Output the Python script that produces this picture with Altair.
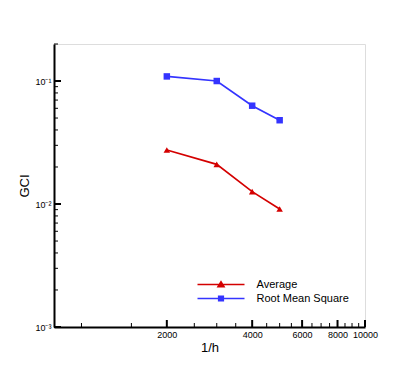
import altair as alt
import pandas as pd

# ---- data ----
inv_h = [2000, 3000, 4000, 5000]
gci_average = [0.0275, 0.021, 0.0126, 0.0091]
gci_rms = [0.109, 0.100, 0.063, 0.048]
series_names = ["Average", "Root Mean Square"]
series_colors = ["#d40000", "#3434ff"]
series_shapes = ["triangle-up", "square"]

x_major = [2000, 4000, 6000, 8000, 10000]
x_minor = [1000, 1500, 2500, 3000, 3500, 4500, 5000, 5500, 6500, 7000,
           7500, 8500, 9000, 9500]
y_major = [0.001, 0.01, 0.1]
y_minor = [0.002, 0.003, 0.004, 0.005, 0.006, 0.007, 0.008, 0.009,
           0.02, 0.03, 0.04, 0.05, 0.06, 0.07, 0.08, 0.09, 0.2]

df = pd.DataFrame({
    "x": inv_h * 2,
    "y": gci_average + gci_rms,
    "series": [series_names[0]] * len(inv_h) + [series_names[1]] * len(inv_h),
})

FONT = "Liberation Sans"
W, H = 311, 283

xscale = alt.Scale(type="log", domain=[800, 10000], nice=False)
yscale = alt.Scale(type="log", domain=[0.001, 0.2], nice=False)
cscale = alt.Scale(domain=series_names, range=series_colors)

xaxis = alt.Axis(values=x_major, format="d", ticks=False, grid=False,
                 labelFontSize=9, labelFont=FONT, labelPadding=3,
                 labelOverlap=False, labelFlush=False, labelBound=False,
                 title="1/h", titleFontSize=13, titleFont=FONT,
                 titleFontWeight="normal", titlePadding=2,
                 domainColor="black", domainWidth=2, labelColor="black",
                 titleColor="black")
yaxis = alt.Axis(values=y_major, ticks=False, grid=False,
                 labelExpr="datum.value >= 0.1 ? '10\u207b\u00b9' : (datum.value >= 0.01 ? '10\u207b\u00b2' : '10\u207b\u00b3')",
                 labelFontSize=9, labelFont=FONT, labelPadding=3,
                 labelOverlap=False, labelFlush=False,
                 title="GCI", titleFontSize=13, titleFont=FONT,
                 titleFontWeight="normal", titlePadding=3,
                 domainColor="black", domainWidth=2, labelColor="black",
                 titleColor="black")

X = alt.X("x:Q", scale=xscale, axis=xaxis)
Y = alt.Y("y:Q", scale=yscale, axis=yaxis)

layers = []
for name, col, shp in zip(series_names, series_colors, series_shapes):
    sub = alt.Chart(df).transform_filter(alt.datum.series == name)
    layers.append(sub.mark_line(strokeWidth=1.7, color=col).encode(x=X, y=Y))
    layers.append(sub.mark_point(filled=True, opacity=1, size=42, color=col,
                                 shape=shp).encode(x=X, y=Y))

leg = alt.Legend(title=None, orient="none", legendX=161.5, legendY=235,
                 symbolSize=4, symbolStrokeWidth=1.6, labelOffset=30,
                 labelFontSize=11, labelFont=FONT, labelColor="black",
                 rowPadding=2, padding=0, symbolOpacity=1)
legend_paths = [
    "M-23.5,0L23.5,0M-3,2.2L0,-2.8L3,2.2Z",
    "M-23.5,0L23.5,0M-2.3,-2.3L2.3,-2.3L2.3,2.3L-2.3,2.3Z",
]
legend_layer = alt.Chart(df).transform_filter("false").mark_point(
    filled=True, size=4, strokeWidth=1.6, opacity=1).encode(
    x=X, y=Y,
    color=alt.Color("series:N", scale=cscale, legend=leg),
    stroke=alt.Stroke("series:N", scale=cscale, legend=leg),
    shape=alt.Shape("series:N", scale=alt.Scale(domain=series_names, range=legend_paths),
                    legend=leg))
layers.append(legend_layer)

# inward-pointing ticks
layers.append(alt.Chart(pd.DataFrame({"v": y_major})).mark_rule(color="black", strokeWidth=2).encode(
    y=alt.Y("v:Q", scale=yscale), x=alt.value(0), x2=alt.value(7)))
layers.append(alt.Chart(pd.DataFrame({"v": y_minor})).mark_rule(color="black", strokeWidth=1).encode(
    y=alt.Y("v:Q", scale=yscale), x=alt.value(0), x2=alt.value(4)))
layers.append(alt.Chart(pd.DataFrame({"v": x_major})).mark_rule(color="black", strokeWidth=2).encode(
    x=alt.X("v:Q", scale=xscale), y=alt.value(H), y2=alt.value(H - 7)))
layers.append(alt.Chart(pd.DataFrame({"v": x_minor})).mark_rule(color="black", strokeWidth=1).encode(
    x=alt.X("v:Q", scale=xscale), y=alt.value(H), y2=alt.value(H - 4)))

chart = alt.layer(*layers).properties(
    width=W, height=H,
    autosize=alt.AutoSizeParams(type="none"),
    padding={"left": 46, "top": 36, "right": 20, "bottom": 40},
).configure_view(stroke=None).configure(background="white")

chart.save("out.html", embed_options={"renderer": "svg", "actions": False})
